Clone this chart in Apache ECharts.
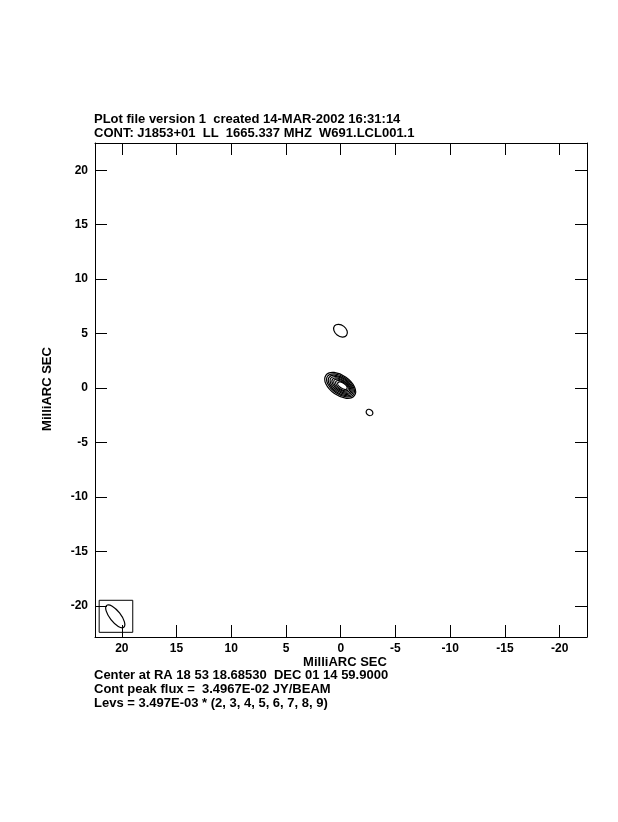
<!DOCTYPE html>
<html>
<head>
<meta charset="utf-8">
<style>
  html, body { margin: 0; padding: 0; background: #fff; }
  #chart { width: 618px; height: 822px; }
</style>
<script src="https://cdn.jsdelivr.net/npm/echarts@6/dist/echarts.min.js"></script>
</head>
<body>
<div id="chart"></div>
<script>
// tick labels (milliarcsec)
const tickVals = [-20, -15, -10, -5, 0, 5, 10, 15, 20];

// contour ellipses: centre x, centre y, semi-major, semi-minor (mas), angle (deg, ccw on screen)
const contourX = [0.05, 0.02, 0.0, -0.03, -0.06, -0.09, -0.12, -0.15, 0.02, -2.63];
const contourY = [0.25, 0.25, 0.24, 0.24, 0.23, 0.23, 0.22, 0.22, 5.27, -2.24];
const contourA = [1.6, 1.45, 1.3, 1.15, 1.0, 0.85, 0.68, 0.5, 0.7, 0.32];
const contourB = [0.92, 0.8, 0.7, 0.6, 0.5, 0.42, 0.33, 0.24, 0.5, 0.27];
const contourAng = [-35, -35, -35, -35, -35, -35, -35, -35, -38, -30];

// restoring beam and its box
const beamX = [20.6];
const beamY = [-20.95];
const beamA = [1.27];
const beamB = [0.5];
const beamAng = [-52];
const beamBox = [[22.07, -19.48, 19.0, -22.42]];

const headerLines = [
  'PLot file version 1  created 14-MAR-2002 16:31:14',
  'CONT: J1853+01  LL  1665.337 MHZ  W691.LCL001.1'
];
const footerLines = [
  'Center at RA 18 53 18.68530  DEC 01 14 59.9000',
  'Cont peak flux =  3.4967E-02 JY/BEAM',
  'Levs = 3.497E-03 * (2, 3, 4, 5, 6, 7, 8, 9)'
];
const axisTitle = 'MilliARC SEC';

const font = 'Liberation Sans, Arial, Helvetica, sans-serif';
const chart = echarts.init(document.getElementById('chart'), null, {renderer: 'canvas'});

const ellipseData = (xs, ys, as, bs, angs) =>
  xs.map((x, i) => [x, ys[i], as[i], bs[i], angs[i]]);

// draw one ellipse through the axis scales
function renderEllipse(params, api) {
  const c = api.coord([api.value(0), api.value(1)]);
  const rx = api.size([api.value(2), 0])[0];
  const ry = api.size([0, api.value(3)])[1];
  return {
    type: 'ellipse',
    x: c[0],
    y: c[1],
    rotation: api.value(4) * Math.PI / 180,
    shape: {cx: 0, cy: 0, rx: rx, ry: ry},
    style: {fill: 'none', stroke: '#000', lineWidth: 1.2}
  };
}

function renderBox(params, api) {
  const p1 = api.coord([api.value(0), api.value(1)]);
  const p2 = api.coord([api.value(2), api.value(3)]);
  return {
    type: 'rect',
    shape: {
      x: Math.min(p1[0], p2[0]),
      y: Math.min(p1[1], p2[1]),
      width: Math.abs(p2[0] - p1[0]),
      height: Math.abs(p2[1] - p1[1])
    },
    style: {fill: 'none', stroke: '#000', lineWidth: 1}
  };
}

const axisCommon = {
  type: 'value',
  axisLine: {show: true, onZero: false, lineStyle: {color: '#000', width: 1}},
  axisTick: {show: true, inside: true, length: 12, customValues: tickVals, lineStyle: {color: '#000', width: 1}},
  splitLine: {show: false},
  axisLabel: {
    show: true,
    customValues: tickVals,
    color: '#000',
    fontFamily: font,
    fontWeight: 'bold',
    fontSize: 12
  }
};

const xRange = {min: -22.5, max: 22.45, inverse: true};
const yRange = {min: -22.85, max: 22.5};

const textStyle = {fill: '#000', font: 'bold 13px ' + font};

const option = {
  backgroundColor: '#fff',
  animation: false,
  grid: {left: 95, top: 143, width: 492, height: 494, containLabel: false},
  xAxis: [
    Object.assign({}, axisCommon, xRange, {position: 'bottom',
      axisLabel: Object.assign({}, axisCommon.axisLabel, {margin: 6})}),
    Object.assign({}, axisCommon, xRange, {position: 'top',
      axisLabel: {show: false}})
  ],
  yAxis: [
    Object.assign({}, axisCommon, yRange, {position: 'left',
      axisLabel: Object.assign({}, axisCommon.axisLabel, {margin: 7})}),
    Object.assign({}, axisCommon, yRange, {position: 'right',
      axisLabel: {show: false}})
  ],
  graphic: [
    {type: 'text', left: 94, top: 113, style: Object.assign({text: headerLines[0]}, textStyle)},
    {type: 'text', left: 94, top: 127, style: Object.assign({text: headerLines[1]}, textStyle)},
    {type: 'text', left: 94, top: 669, style: Object.assign({text: footerLines[0]}, textStyle)},
    {type: 'text', left: 94, top: 683, style: Object.assign({text: footerLines[1]}, textStyle)},
    {type: 'text', left: 94, top: 697, style: Object.assign({text: footerLines[2]}, textStyle)},
    {type: 'text', x: 345, y: 662, style: Object.assign({text: axisTitle, align: 'center', verticalAlign: 'middle'}, textStyle)},
    {type: 'text', x: 47, y: 389, rotation: Math.PI / 2,
      style: Object.assign({text: axisTitle, align: 'center', verticalAlign: 'middle'}, textStyle)}
  ],
  series: [
    {
      type: 'custom',
      name: 'contours',
      renderItem: renderEllipse,
      data: ellipseData(contourX, contourY, contourA, contourB, contourAng),
      encode: {x: 0, y: 1},
      clip: true
    },
    {
      type: 'custom',
      name: 'beam',
      renderItem: renderEllipse,
      data: ellipseData(beamX, beamY, beamA, beamB, beamAng),
      encode: {x: 0, y: 1}
    },
    {
      type: 'custom',
      name: 'beamBox',
      renderItem: renderBox,
      data: beamBox,
      encode: {x: [0, 2], y: [1, 3]}
    }
  ]
};

chart.setOption(option);
</script>
</body>
</html>
